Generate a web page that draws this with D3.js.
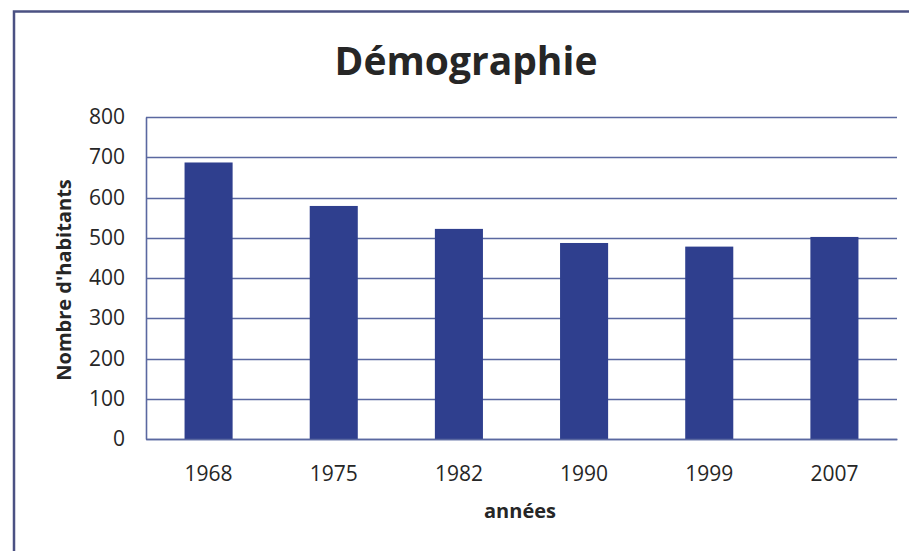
<!DOCTYPE html>
<html>
<head>
<meta charset="utf-8">
<script src="https://cdn.jsdelivr.net/npm/d3@7"></script>
<style>
  body { margin: 0; background: #fff; }
  text { font-family: "Open Sans", sans-serif; fill: #262626; }
</style>
</head>
<body>
<svg id="chart" width="909" height="551"></svg>
<script>
// data
var years = ["1968", "1975", "1982", "1990", "1999", "2007"];
var habitants = [687, 579, 522, 487, 478, 502];
var yTicks = [0, 100, 200, 300, 400, 500, 600, 700, 800];

var svg = d3.select("svg#chart");
var margin = { top: 117, right: 12, bottom: 112, left: 146 };
var width = +svg.attr("width") - margin.left - margin.right;
var height = +svg.attr("height") - margin.top - margin.bottom;

// frame (only top and left edges visible in the scan)
svg.append("path")
  .attr("d", "M14,551 V11.5 H909")
  .attr("fill", "none")
  .attr("stroke", "#4b5183")
  .attr("stroke-width", 2.5);

var g = svg.append("g")
  .attr("transform", "translate(" + margin.left + "," + margin.top + ")");

var x = d3.scaleBand()
  .domain(years)
  .range([0, width])
  .paddingInner(0.616)
  .paddingOuter(0.308);

var y = d3.scaleLinear()
  .domain([0, 800])
  .range([height, 0]);

// gridlines
g.append("g")
  .attr("class", "grid")
  .selectAll("line")
  .data(yTicks)
  .enter()
  .append("line")
  .attr("x1", 0)
  .attr("x2", width)
  .attr("y1", function(d) { return Math.round(y(d)) + 0.5; })
  .attr("y2", function(d) { return Math.round(y(d)) + 0.5; })
  .attr("stroke", "#5a68a0")
  .attr("stroke-width", 1.6);

// bars
g.append("g")
  .selectAll("rect")
  .data(habitants)
  .enter()
  .append("rect")
  .attr("x", function(d, i) { return x(years[i]); })
  .attr("y", function(d) { return y(d); })
  .attr("width", x.bandwidth())
  .attr("height", function(d) { return height - y(d); })
  .attr("fill", "#2f3f8e");

// y axis
var yAxis = g.append("g")
  .call(d3.axisLeft(y).tickValues(yTicks).tickSize(0).tickPadding(21));
yAxis.select(".domain").attr("stroke", "#5a68a0").attr("stroke-width", 1.6);
yAxis.selectAll("text").style("font-size", "21px").attr("fill", "#333");

// x axis
var xAxis = g.append("g")
  .attr("transform", "translate(0," + height + ")")
  .call(d3.axisBottom(x).tickSize(0).tickPadding(27));
xAxis.select(".domain").attr("stroke", "#5a68a0").attr("stroke-width", 1.6);
xAxis.selectAll("text").style("font-size", "21px").attr("fill", "#333");

// title
svg.append("text")
  .attr("x", 466)
  .attr("y", 75)
  .attr("text-anchor", "middle")
  .style("font-size", "39px")
  .style("font-weight", "bold")
  .text("Démographie");

// axis titles
svg.append("text")
  .attr("x", 520)
  .attr("y", 518)
  .attr("text-anchor", "middle")
  .style("font-size", "20px")
  .style("font-weight", "bold")
  .text("années");

svg.append("text")
  .attr("transform", "translate(71,280) rotate(-90)")
  .attr("text-anchor", "middle")
  .style("font-size", "20px")
  .style("font-weight", "bold")
  .text("Nombre d'habitants");
</script>
</body>
</html>
